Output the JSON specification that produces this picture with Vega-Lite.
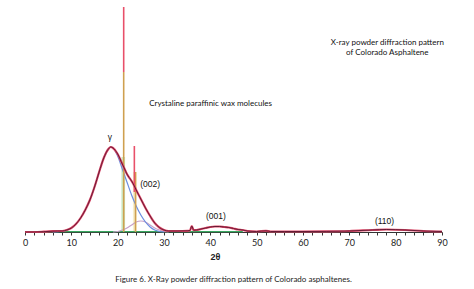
{
  "$schema": "https://vega.github.io/schema/vega-lite/v6.json",
  "width": 417,
  "height": 227,
  "autosize": {"type": "none"},
  "padding": {"left": 25, "top": 5, "right": 32, "bottom": 57},
  "background": "white",
  "config": {"view": {"stroke": null}},
  "title": {
    "text": "Figure 6. X-Ray powder diffraction pattern of Colorado asphaltenes.",
    "orient": "bottom",
    "anchor": "middle",
    "font": "Lato",
    "fontSize": 8,
    "fontWeight": "normal",
    "color": "#222",
    "offset": 15
  },
  "datasets": {
    "measured": [
      {"x": 0, "y": 0}, {"x": 2, "y": 0}, {"x": 4, "y": 0.3}, {"x": 6, "y": 0.8}, {"x": 7, "y": 1}, {"x": 8, "y": 1},
      {"x": 9, "y": 2}, {"x": 10, "y": 4}, {"x": 11, "y": 8}, {"x": 12, "y": 14}, {"x": 13, "y": 22},
      {"x": 14, "y": 32}, {"x": 15, "y": 45}, {"x": 16, "y": 60}, {"x": 17, "y": 74}, {"x": 18, "y": 83},
      {"x": 18.5, "y": 85}, {"x": 19, "y": 84}, {"x": 20, "y": 78}, {"x": 21, "y": 68}, {"x": 21.5, "y": 63},
      {"x": 22, "y": 58}, {"x": 23, "y": 51}, {"x": 23.6, "y": 46}, {"x": 24, "y": 42}, {"x": 25, "y": 33},
      {"x": 26, "y": 24}, {"x": 27, "y": 16}, {"x": 28, "y": 9}, {"x": 29, "y": 4.5}, {"x": 30, "y": 2},
      {"x": 31, "y": 1}, {"x": 33, "y": 1}, {"x": 35, "y": 1.2}, {"x": 35.6, "y": 1.5}, {"x": 36, "y": 6},
      {"x": 36.4, "y": 1.8}, {"x": 37, "y": 2}, {"x": 38, "y": 3}, {"x": 39, "y": 4}, {"x": 40, "y": 5},
      {"x": 41, "y": 5.5}, {"x": 42, "y": 5.5}, {"x": 43, "y": 5}, {"x": 44, "y": 4.5}, {"x": 45, "y": 3.5},
      {"x": 46, "y": 2.5}, {"x": 47, "y": 2}, {"x": 48, "y": 1}, {"x": 50, "y": 0.5}, {"x": 52, "y": 1.2},
      {"x": 53, "y": 0.5}, {"x": 56, "y": 0.5}, {"x": 60, "y": 0.5}, {"x": 65, "y": 0.6}, {"x": 70, "y": 1},
      {"x": 75, "y": 2}, {"x": 78, "y": 2.5}, {"x": 82, "y": 2}, {"x": 86, "y": 1}, {"x": 90, "y": 0.5}
    ],
    "fit": [
      {"x": 6, "y": 0}, {"x": 8, "y": 0.8}, {"x": 9, "y": 2}, {"x": 10, "y": 4}, {"x": 11, "y": 8},
      {"x": 12, "y": 14}, {"x": 13, "y": 22}, {"x": 14, "y": 32}, {"x": 15, "y": 45}, {"x": 16, "y": 60},
      {"x": 17, "y": 74}, {"x": 18, "y": 83}, {"x": 18.5, "y": 85}, {"x": 19, "y": 84}, {"x": 20, "y": 76},
      {"x": 21, "y": 63}, {"x": 22, "y": 50}, {"x": 23, "y": 37}, {"x": 24, "y": 26}, {"x": 25, "y": 17},
      {"x": 26, "y": 10}, {"x": 27, "y": 5}, {"x": 28, "y": 2}, {"x": 29, "y": 0.5}, {"x": 30, "y": 0}
    ],
    "component": [
      {"x": 19, "y": 0}, {"x": 20, "y": 0.5}, {"x": 21, "y": 2}, {"x": 22, "y": 4}, {"x": 23, "y": 7},
      {"x": 24, "y": 10}, {"x": 25, "y": 11}, {"x": 26, "y": 10}, {"x": 27, "y": 7}, {"x": 28, "y": 4},
      {"x": 29, "y": 2}, {"x": 30, "y": 0.5}, {"x": 31, "y": 0}
    ],
    "baseline": [
      {"x": 0, "y": 0.4}, {"x": 47, "y": 0.4}
    ],
    "bands": [
      {"x": 20.8, "x2": 21.6, "y": 0, "y2": 75, "part": "green"},
      {"x": 23.3, "x2": 24.1, "y": 0, "y2": 60, "part": "yellow"}
    ],
    "spikes": [
      {"x": 21.3, "y": 0, "y2": 160, "part": "tan"},
      {"x": 21.3, "y": 160, "y2": 225, "part": "red"},
      {"x": 23.85, "y": 0, "y2": 60, "part": "tan"},
      {"x": 23.6, "y": 40, "y2": 86, "part": "red"}
    ],
    "labels": [
      {"x": 18.3, "y": 95, "text": "γ"},
      {"x": 27, "y": 48, "text": "(002)"},
      {"x": 41.2, "y": 16, "text": "(001)"},
      {"x": 77.6, "y": 11, "text": "(110)"}
    ],
    "notes": [
      {"x": 26.8, "y": 128, "text": "Crystaline paraffinic wax molecules"}
    ],
    "heading": [
      {"x": 78.2, "y": 189, "text": "X-ray powder diffraction pattern"},
      {"x": 78.2, "y": 179, "text": "of Colorado Asphaltene"}
    ]
  },
  "encoding": {
    "x": {"field": "x", "type": "quantitative", "scale": {"domain": [0, 90], "nice": false, "zero": false},
      "axis": {
        "values": [0,2,4,6,8,10,12,14,16,18,20,22,24,26,28,30,32,34,36,38,40,42,44,46,48,50,52,54,56,58,60,62,64,66,68,70,72,74,76,78,80,82,84,86,88,90],
        "labelExpr": "datum.value % 10 === 0 ? datum.label : ''",
        "labelOverlap": false,
        "labelFlush": false,
        "labelBound": false,
        "labelSeparation": 0,
        "domainColor": "#333",
        "domainWidth": 1.2,
        "tickColor": "#333",
        "tickWidth": 1,
        "tickSize": 3,
        "labelFont": "Lato",
        "labelFontSize": 9,
        "labelColor": "#222",
        "labelPadding": 3,
        "grid": false,
        "title": "2θ",
        "titleFont": "Liberation Sans",
        "titleFontSize": 9,
        "titleFontWeight": "bold",
        "titleColor": "#222",
        "titleX": 190,
        "titleY": 24,
        "titleBaseline": "middle"
      }
    },
    "y": {"field": "y", "type": "quantitative", "scale": {"domain": [0, 227], "nice": false}, "axis": null}
  },
  "layer": [
    {
      "data": {"name": "bands"},
      "transform": [{"filter": "datum.part === 'green'"}],
      "mark": {"type": "rect", "opacity": 0.6, "color": "#a8dca0"},
      "encoding": {
        "x2": {"field": "x2"},
        "y2": {"field": "y2"}
      }
    },
    {
      "data": {"name": "bands"},
      "transform": [{"filter": "datum.part === 'yellow'"}],
      "mark": {"type": "rect", "opacity": 0.6, "color": "#f2e2a8"},
      "encoding": {
        "x2": {"field": "x2"},
        "y2": {"field": "y2"}
      }
    },
    {
      "data": {"name": "baseline"},
      "mark": {"type": "line", "color": "#3aa860", "strokeWidth": 1.2},
      "encoding": {}
    },
    {
      "data": {"name": "component"},
      "mark": {"type": "line", "color": "#c8a0c8", "strokeWidth": 1.2, "interpolate": "monotone"},
      "encoding": {}
    },
    {
      "data": {"name": "fit"},
      "mark": {"type": "line", "color": "#6a8ee0", "strokeWidth": 1.2, "interpolate": "monotone"},
      "encoding": {}
    },
    {
      "data": {"name": "spikes"},
      "transform": [{"filter": "datum.part === 'tan'"}],
      "mark": {"type": "rule", "strokeWidth": 1.6, "color": "#cfa050"},
      "encoding": {"y2": {"field": "y2"}}
    },
    {
      "data": {"name": "spikes"},
      "transform": [{"filter": "datum.part === 'red'"}],
      "mark": {"type": "rule", "strokeWidth": 1.6, "color": "#e8506a"},
      "encoding": {"y2": {"field": "y2"}}
    },
    {
      "data": {"name": "measured"},
      "mark": {"type": "line", "color": "#e04a68", "strokeWidth": 2.2, "interpolate": "monotone"},
      "encoding": {}
    },
    {
      "data": {"name": "measured"},
      "mark": {"type": "line", "color": "#5a1530", "strokeWidth": 0.9, "interpolate": "monotone"},
      "encoding": {}
    },
    {
      "data": {"name": "labels"},
      "mark": {"type": "text", "font": "Liberation Sans", "fontSize": 8.5, "color": "#111", "baseline": "middle", "align": "center"},
      "encoding": {"text": {"field": "text"}}
    },
    {
      "data": {"name": "notes"},
      "mark": {"type": "text", "font": "Lato", "fontSize": 8, "color": "#111", "baseline": "middle", "align": "left"},
      "encoding": {"text": {"field": "text"}}
    },
    {
      "data": {"name": "heading"},
      "mark": {"type": "text", "font": "Lato", "fontSize": 8, "color": "#111", "baseline": "middle", "align": "center"},
      "encoding": {"text": {"field": "text"}}
    }
  ]
}
